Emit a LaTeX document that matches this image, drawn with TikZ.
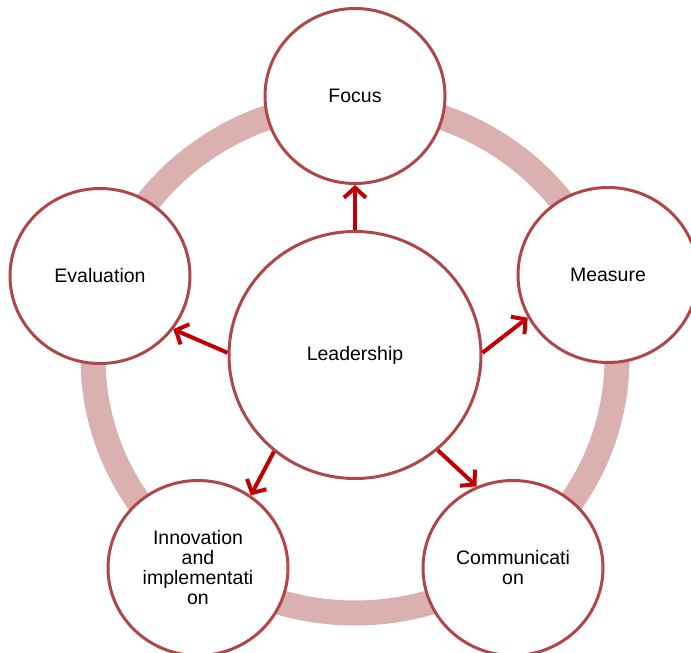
\documentclass[tikz,border=0pt]{standalone}
\usepackage{fontspec}
\setmainfont{Liberation Sans}
\usetikzlibrary{shapes.geometric,arrows.meta}
\definecolor{ringc}{HTML}{DBB0B0}
\definecolor{circc}{HTML}{AE4747}
\definecolor{arrc}{HTML}{C00000}
\begin{document}
\begin{tikzpicture}[x=1pt,y=-1pt,
  bub/.style={ellipse, draw=circc, line width=3pt, fill=white, inner sep=0pt, align=center,
    font=\fontsize{19.5}{20}\selectfont, minimum width=180pt, minimum height=175pt},
  big/.style={bub, minimum width=252pt, minimum height=247pt},
  arr/.style={draw=arrc, line width=4pt, -{Straight Barb[length=10pt,width=22pt]}}]
\useasboundingbox (0,0) rectangle (691,653);
\clip (0,0) rectangle (691,653);
\draw[ringc, line width=25pt] (355,358) ellipse [x radius=262pt, y radius=255pt];
\node[big] (lead) at (355,355) {Leadership};
\node[bub] (focus) at (355,96) {Focus};
\node[bub] (measure) at (608,275) {Measure};
\node[bub] (eval) at (100,276) {Evaluation};
\node[bub] (innov) at (198,568) {Innovation\\and\\implementati\\on};
\node[bub] (comm) at (513,568) {Communicati\\on};
\draw[arr] (lead.90) -- (focus.270);
\draw[arr] (lead.1) -- (measure.208);
\draw[arr] (lead.179) -- (eval.324);
\draw[arr] (lead.230) -- (innov.54);
\draw[arr] (lead.311) -- (comm.114);
\end{tikzpicture}
\end{document}
